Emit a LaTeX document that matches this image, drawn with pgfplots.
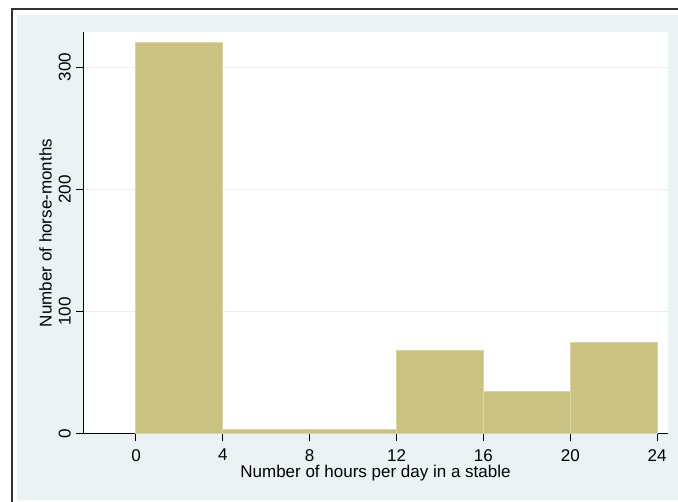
\documentclass[border=0pt]{standalone}
\usepackage{fontspec}
\setmainfont{Liberation Sans}
\usepackage{pgfplots}
\pgfplotsset{compat=1.18}
\definecolor{bgblue}{RGB}{234,242,243}
\definecolor{barfill}{RGB}{201,194,128}
\definecolor{baredge}{RGB}{218,213,165}
\definecolor{gridc}{RGB}{234,240,241}
\begin{document}
\begin{tikzpicture}
\useasboundingbox (0pt,0pt) rectangle (678pt,502pt);
\fill[white] (0pt,0pt) rectangle (678pt,502pt);
\fill[bgblue] (17pt,2pt) rectangle (690pt,487pt);
\draw[line width=1.3pt, black!80] (12pt,-20pt) -- (12pt,493pt) -- (700pt,493pt);
\begin{axis}[
  at={(83pt,68pt)}, anchor=south west,
  scale only axis, width=585pt, height=402pt,
  xmin=-2.44, xmax=24.5, ymin=0, ymax=328.7,
  axis x line*=bottom, axis y line*=left,
  axis line style={line width=1pt, black},
  axis background/.style={fill=white},
  xtick={0,4,8,12,16,20,24},
  ytick={0,100,200,300},
  tick align=outside,
  major tick length=7pt,
  tick style={line width=1pt, black},
  ymajorgrids,
  grid style={gridc, line width=1pt},
  font=\fontsize{17}{19}\selectfont,
  /pgf/number format/assume math mode=true,
  xticklabel style={inner sep=0pt, anchor=north, yshift=-8pt},
  yticklabel style={inner sep=0pt, xshift=-5pt, rotate=90, anchor=south},
  xlabel={Number of hours per day in a stable},
  ylabel={Number of horse-months},
  xlabel style={at={(axis description cs:0.5,0)}, anchor=north, inner sep=0pt, yshift=-31pt},
  ylabel style={at={(axis description cs:-0.053,0.5)}, anchor=south, inner sep=0pt},
  clip=false,
]
\addplot[ybar interval, fill=barfill, draw=baredge, line width=1pt]
  coordinates {(0,320) (4,4) (8,4) (12,68) (16,35) (20,75) (24,75)};
\end{axis}
\end{tikzpicture}
\end{document}
